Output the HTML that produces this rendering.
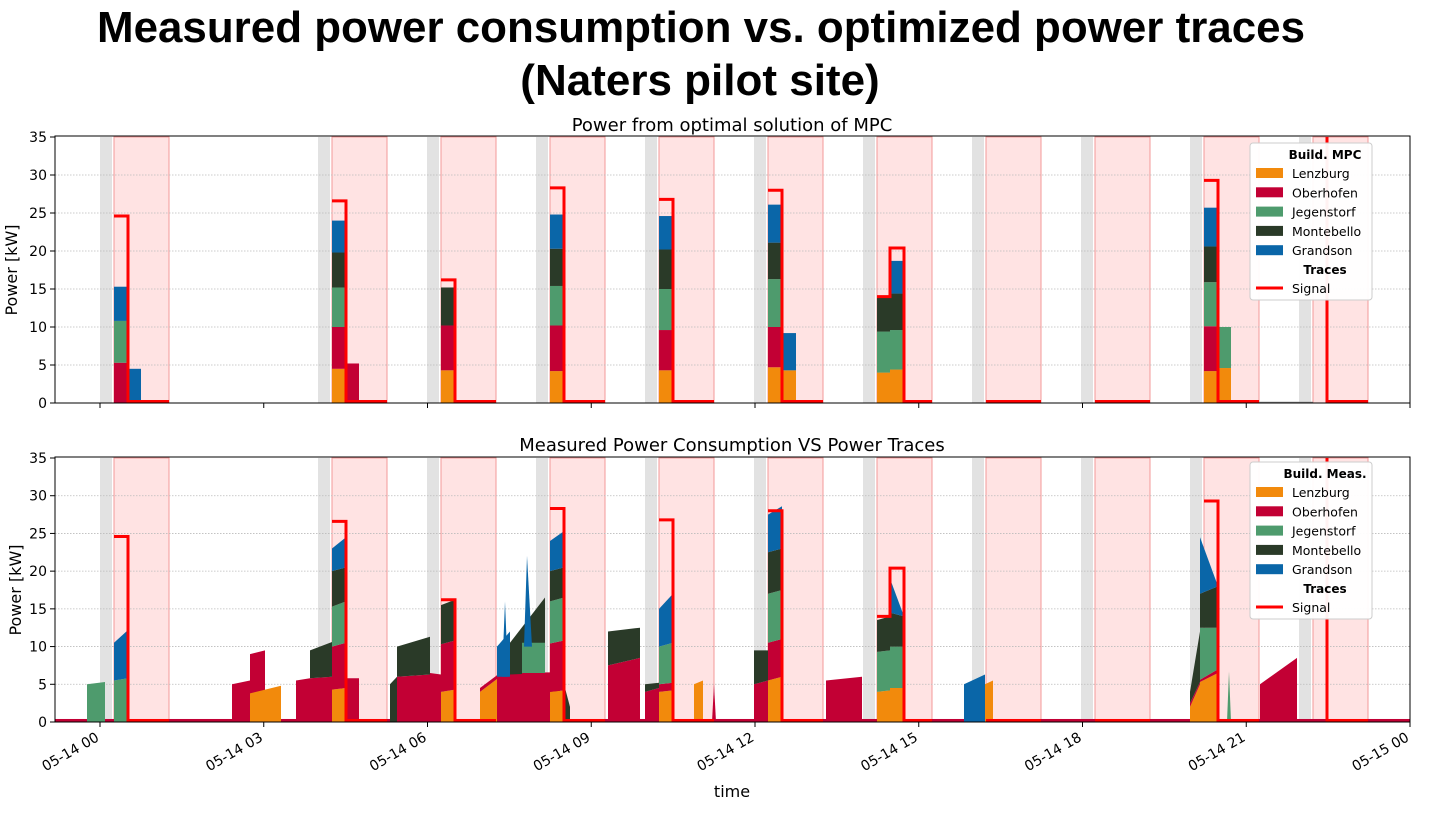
<!DOCTYPE html><html><head><meta charset="utf-8"><style>
body{margin:0;background:#fff;width:1430px;height:809px;overflow:hidden}
svg text{font-family:"DejaVu Sans","Liberation Sans",sans-serif}
</style></head><body>
<svg id="s" width="1430" height="809" xmlns="http://www.w3.org/2000/svg">
<text x="701" y="42" text-anchor="middle" font-size="44" font-weight="bold" textLength="1208" lengthAdjust="spacingAndGlyphs" style="font-family:'Liberation Sans',sans-serif">Measured power consumption vs. optimized power traces</text>
<text x="700" y="95" text-anchor="middle" font-size="44" font-weight="bold" style="font-family:'Liberation Sans',sans-serif">(Naters pilot site)</text>
<text x="732" y="131" text-anchor="middle" font-size="18">Power from optimal solution of MPC</text>
<text x="732" y="451" text-anchor="middle" font-size="18">Measured Power Consumption VS Power Traces</text>
<g id="g"></g>
</svg>
<script>
const NS="http://www.w3.org/2000/svg",G=document.getElementById('g');
function el(t,a,txt){const e=document.createElementNS(NS,t);for(const k in a)e.setAttribute(k,a[k]);if(txt!==undefined)e.textContent=txt;G.appendChild(e);return e;}
const C={L:'#f28a0c',O:'#c20034',J:'#4e9b6d',M:'#2a3a28',G:'#0a66a8'};
const P=[{top:137,b:403},{top:458,b:722}];
function Y(p,v){return P[p].b-v*(P[p].b-P[p].top)/35;}
const bands=[100,318,427,536,645,754,863,972,1081,1190,1299];
for(let p=0;p<2;p++){
 const t=P[p].top,b=P[p].b;
 for(const x of bands){el('rect',{x:x,y:t,width:12,height:b-t,fill:'#e2e2e2'});
  el('rect',{x:x+14,y:t,width:55,height:b-t,fill:'#ffe3e3',stroke:'#f39a9a','stroke-width':1});}
 for(let v=5;v<35;v+=5)el('line',{x1:55,x2:1410,y1:Y(p,v),y2:Y(p,v),stroke:'#bbb','stroke-dasharray':'1.5,1.5','stroke-width':0.8});
}
function st(p,x0,x1,arr){let c=0;for(const [k,v] of arr){const y1=Y(p,v),y0=Y(p,c);el('rect',{x:x0,y:y1,width:x1-x0,height:y0-y1,fill:C[k]});c=v;}}
st(0,114,128,[['O',5.3],['J',10.8],['G',15.3]]);st(0,128,141,[['G',4.5]]);
st(0,332,346,[['L',4.5],['O',10],['J',15.2],['M',19.8],['G',24]]);st(0,346,359,[['O',5.2]]);
st(0,441,455,[['L',4.3],['O',10.2],['M',15.2]]);
st(0,550,564,[['L',4.2],['O',10.2],['J',15.4],['M',20.3],['G',24.8]]);
st(0,659,673,[['L',4.3],['O',9.6],['J',15],['M',20.2],['G',24.6]]);
st(0,768,782,[['L',4.7],['O',10],['J',16.3],['M',21.1],['G',26.1]]);st(0,782,796,[['L',4.3],['G',9.2]]);
st(0,877,890,[['L',4],['J',9.4],['M',14]]);st(0,890,904,[['L',4.4],['J',9.6],['M',14.4],['G',18.7]]);
st(0,1204,1218,[['L',4.2],['O',10.1],['J',15.9],['M',20.6],['G',25.7]]);st(0,1218,1231,[['L',4.6],['J',10]]);
el('line',{x1:1259,x2:1313,y1:402.5,y2:402.5,stroke:'#888','stroke-width':1.5});
el('rect',{x:55,y:Y(1,0.4),width:1355,height:Y(1,0)-Y(1,0.4),fill:C.O});
function poly(pts,k){el('polygon',{points:pts.map(q=>q[0]+','+Y(1,q[1])).join(' '),fill:C[k]});}
function area(x0,x1,layers){let prev0=0,prev1=0;for(const [k,a,b2] of layers){poly([[x0,prev0],[x0,a],[x1,b2],[x1,prev1]],k);prev0=a;prev1=b2;}}
area(87,105,[['J',5,5.3]]);
area(114,128,[['J',5.5,5.8],['G',10.5,12.2]]);
area(232,250,[['O',5,5.5]]);area(250,265,[['O',9,9.5]]);area(250,281,[['L',3.8,4.8]]);
area(296,310,[['O',5.5,5.8]]);area(310,332,[['O',5.8,6],['M',9.5,10.6]]);
area(332,346,[['L',4.3,4.5],['O',10,10.5],['J',15.3,16],['M',20,20.5],['G',23,24.5]]);area(346,359,[['O',5.8,5.8]]);
area(390,397,[['M',5,6]]);area(397,430,[['O',6,6.3],['M',10,11.3]]);area(430,441,[['O',6.5,6.3]]);
area(441,455,[['L',4,4.3],['O',10.3,10.8],['M',15.5,16.2]]);
area(480,500,[['L',4,6],['O',4.5,6.5]]);area(500,560,[['O',6.5,6.6]]);
area(497,510,[['O',6,6],['G',10,12]]);poly([[502,6],[505,16],[508,6]],'G');
area(510,545,[['O',6.3,6.5],['M',10.5,16.5]]);area(522,545,[['O',6.5,6.5],['J',10.5,10.5]]);poly([[524,10],[527,22],[532,10]],'G');
area(550,564,[['L',4,4.2],['O',10.4,10.8],['J',16,16.5],['M',20,20.5],['G',24,25.3]]);area(564,570,[['M',5,2]]);
area(608,640,[['O',7.5,8.5],['M',12,12.5]]);
area(645,659,[['O',4,4.5],['M',5,5.2]]);
area(659,673,[['L',4,4.2],['O',5,5.2],['J',10,10.5],['G',15,17]]);
area(694,703,[['L',5,5.5]]);poly([[712,0],[714,5],[716,0]],'O');
area(754,768,[['O',5,5.5],['M',9.5,9.5]]);
area(768,782,[['L',5.5,6],['O',10.5,11],['J',17,17.5],['M',22.5,23],['G',27.5,28.6]]);
area(826,862,[['O',5.5,6]]);
area(877,890,[['L',4,4.2],['J',9.3,9.5],['M',13.5,14]]);area(890,904,[['L',4.5,4.5],['J',10,10],['M',14.5,14],['G',19,14]]);
area(964,985,[['G',5,6.3]]);area(985,993,[['L',5,5.5]]);
area(1190,1200,[['L',2,5],['O',2.5,5.3],['M',4,12]]);area(1200,1218,[['L',5.3,6.5],['O',5.6,7],['J',12.5,12.5],['M',17,18],['G',24.5,18]]);
poly([[1227,0],[1229,6.7],[1231,0]],'J');
area(1260,1297,[['O',5,8.5]]);
function sig(p,pts){el('polyline',{points:pts.map(q=>q[0]+','+Y(p,q[1])).join(' '),fill:'none',stroke:'#ff0000','stroke-width':3});}
for(let p=0;p<2;p++){
 const ev=[[114,128,169,24.6],[332,346,387,26.6],[441,455,496,16.2],[550,564,605,28.3],[659,673,714,26.8],[768,782,823,28],[1204,1218,1259,29.3]];
 for(const [a,b,c,v] of ev)sig(p,[[a,v],[b,v],[b,0.2],[c,0.2]]);
 sig(p,[[877,14],[890,14],[890,20.4],[904,20.4],[904,0.2],[932,0.2]]);
 sig(p,[[986,0.2],[1041,0.2]]);sig(p,[[1095,0.2],[1150,0.2]]);
 sig(p,[[1327,35],[1327,0.2],[1368,0.2]]);
}
for(let p=0;p<2;p++){const t=P[p].top,b=P[p].b;
 el('rect',{x:55,y:t-1,width:1355,height:b-t+1,fill:'none',stroke:'#000','stroke-width':1});
 for(let v=0;v<=35;v+=5){const y=Y(p,v);el('line',{x1:50,x2:55,y1:y,y2:y,stroke:'#000'});el('text',{x:47,y:y+5,'text-anchor':'end','font-size':14},String(v));}
 for(let i=0;i<9;i++){const x=100+i*163.75;el('line',{x1:x,x2:x,y1:b,y2:b+5,stroke:'#000'});}
 const tx=p?13:9;el('text',{x:0,y:0,transform:`translate(${tx+8},${(t+b)/2}) rotate(-90)`,'text-anchor':'middle','font-size':16},'Power [kW]');
}
const labs=['05-14 00','05-14 03','05-14 06','05-14 09','05-14 12','05-14 15','05-14 18','05-14 21','05-15 00'];
labs.forEach((l,i)=>{const x=100+i*163.75;el('text',{x:0,y:0,transform:`translate(${x},${740}) rotate(-30)`,'text-anchor':'end','font-size':14},l);});
el('text',{x:732,y:797,'text-anchor':'middle','font-size':16},'time');
function leg(y0,title){el('rect',{x:1250,y:y0,width:122,height:157,fill:'#fff','fill-opacity':0.95,stroke:'#ccc',rx:3});
 el('text',{x:1325,y:y0+16,'text-anchor':'middle','font-size':12,'font-weight':'bold'},title);
 const it=[['L','Lenzburg'],['O','Oberhofen'],['J','Jegenstorf'],['M','Montebello'],['G','Grandson']];
 it.forEach(([k,n],i)=>{const y=y0+25+i*19.3;el('rect',{x:1256,y:y,width:27,height:10,fill:C[k]});el('text',{x:1292,y:y+10,'font-size':12.5},n);});
 el('text',{x:1325,y:y0+131,'text-anchor':'middle','font-size':12,'font-weight':'bold'},'Traces');
 el('line',{x1:1256,x2:1283,y1:y0+145,y2:y0+145,stroke:'#f00','stroke-width':3});el('text',{x:1292,y:y0+150,'font-size':12.5},'Signal');}
leg(143,'Build. MPC');leg(462,'Build. Meas.');
</script></body></html>
